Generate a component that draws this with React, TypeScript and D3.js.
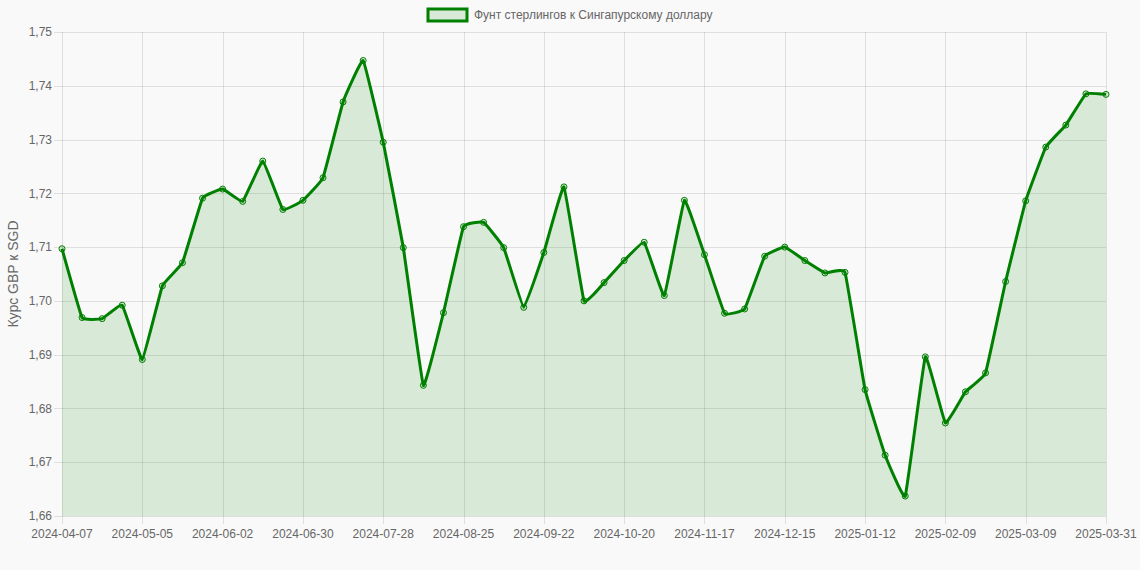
import React, { useEffect, useRef } from "react";
import * as d3 from "d3";

const dates = [
  "2024-04-07", "2024-04-14", "2024-04-21", "2024-04-28", "2024-05-05", "2024-05-12",
  "2024-05-19", "2024-05-26", "2024-06-02", "2024-06-09", "2024-06-16", "2024-06-23",
  "2024-06-30", "2024-07-07", "2024-07-14", "2024-07-21", "2024-07-28", "2024-08-04",
  "2024-08-11", "2024-08-18", "2024-08-25", "2024-09-01", "2024-09-08", "2024-09-15",
  "2024-09-22", "2024-09-29", "2024-10-06", "2024-10-13", "2024-10-20", "2024-10-27",
  "2024-11-03", "2024-11-10", "2024-11-17", "2024-11-24", "2024-12-01", "2024-12-08",
  "2024-12-15", "2024-12-22", "2024-12-29", "2025-01-05", "2025-01-12", "2025-01-19",
  "2025-01-26", "2025-02-02", "2025-02-09", "2025-02-16", "2025-02-23", "2025-03-02",
  "2025-03-09", "2025-03-16", "2025-03-23", "2025-03-30", "2025-03-31",
];

const rates = [
  1.7097, 1.6969, 1.6967, 1.6992, 1.6891, 1.7028, 1.7071, 1.7191, 1.7208, 1.7185,
  1.726, 1.717, 1.7187, 1.7229, 1.737, 1.7447, 1.7295, 1.7099, 1.6843, 1.6978,
  1.7138, 1.7146, 1.7099, 1.6988, 1.709, 1.7212, 1.7, 1.7034, 1.7075, 1.7109,
  1.701, 1.7187, 1.7086, 1.6977, 1.6985, 1.7083, 1.71, 1.7075, 1.7052, 1.7053,
  1.6835, 1.6713, 1.6637, 1.6896, 1.6773, 1.6831, 1.6866, 1.7036, 1.7186, 1.7286,
  1.7327, 1.7385, 1.7384,
];

const yTicks = [1.66, 1.67, 1.68, 1.69, 1.7, 1.71, 1.72, 1.73, 1.74, 1.75];

const seriesLabel = "Фунт стерлингов к Сингапурскому доллару";
const yTitle = "Курс GBP к SGD";

const W = 1140;
const H = 570;
const margin = { top: 32, right: 34, bottom: 54, left: 62 };
const font = "'Liberation Sans', Arial, Helvetica, sans-serif";
const green = "#008000";

function App() {
  const ref = useRef<SVGSVGElement>(null);

  useEffect(() => {
    document.body.style.margin = "0";
    document.body.style.background = "#f9f9f9";
    const svg = d3.select(ref.current);
    svg.selectAll("*").remove();

    const x = d3
      .scalePoint<number>()
      .domain(d3.range(dates.length))
      .range([margin.left, W - margin.right]);
    const y = d3
      .scaleLinear()
      .domain([1.66, 1.75])
      .range([H - margin.bottom, margin.top]);

    const grid = svg.append("g");
    // horizontal grid + ticks
    grid
      .selectAll("line.h")
      .data(yTicks)
      .enter()
      .append("line")
      .attr("x1", margin.left - 8)
      .attr("x2", W - margin.right)
      .attr("y1", (d) => Math.round(y(d)) + 0.5)
      .attr("y2", (d) => Math.round(y(d)) + 0.5)
      .attr("stroke", "rgba(0,0,0,0.1)");

    const shown = d3.range(0, dates.length, 4);
    grid
      .selectAll("line.v")
      .data(shown)
      .enter()
      .append("line")
      .attr("x1", (i) => Math.round(x(i)!) + 0.5)
      .attr("x2", (i) => Math.round(x(i)!) + 0.5)
      .attr("y1", margin.top)
      .attr("y2", H - margin.bottom + 8)
      .attr("stroke", "rgba(0,0,0,0.1)");

    // y labels
    svg
      .append("g")
      .selectAll("text")
      .data(yTicks)
      .enter()
      .append("text")
      .attr("x", margin.left - 10)
      .attr("y", (d) => y(d))
      .attr("dy", "0.35em")
      .attr("text-anchor", "end")
      .attr("font-family", font)
      .attr("font-size", 12)
      .attr("fill", "#666")
      .text((d) => d3.format(".2f")(d).replace(".", ","));

    // x labels
    svg
      .append("g")
      .selectAll("text")
      .data(shown)
      .enter()
      .append("text")
      .attr("x", (i) => x(i)!)
      .attr("y", H - margin.bottom + 22)
      .attr("text-anchor", "middle")
      .attr("font-family", font)
      .attr("font-size", 12)
      .attr("fill", "#666")
      .text((i) => dates[i]);

    // y title
    svg
      .append("text")
      .attr("transform", `translate(18,${(margin.top + H - margin.bottom) / 2}) rotate(-90)`)
      .attr("text-anchor", "middle")
      .attr("font-family", font)
      .attr("font-size", 14)
      .attr("fill", "#666")
      .text(yTitle);

    const curve = d3.curveCardinal.tension(0.75);

    const area = d3
      .area<number>()
      .x((d, i) => x(i)!)
      .y0(y(1.66))
      .y1((d) => y(d))
      .curve(curve);

    const line = d3
      .line<number>()
      .x((d, i) => x(i)!)
      .y((d) => y(d))
      .curve(curve);

    svg
      .append("path")
      .datum(rates)
      .attr("d", area)
      .attr("fill", "rgba(0,128,0,0.13)");

    svg
      .append("path")
      .datum(rates)
      .attr("d", line)
      .attr("fill", "none")
      .attr("stroke", green)
      .attr("stroke-width", 3)
      .attr("stroke-linejoin", "round");

    svg
      .append("g")
      .selectAll("circle")
      .data(rates)
      .enter()
      .append("circle")
      .attr("cx", (d, i) => x(i)!)
      .attr("cy", (d) => y(d))
      .attr("r", 3)
      .attr("fill", "rgba(0,128,0,0.13)")
      .attr("stroke", green)
      .attr("stroke-width", 1);

    // legend
    const lg = svg.append("g");
    lg.append("rect")
      .attr("x", 428)
      .attr("y", 9)
      .attr("width", 39)
      .attr("height", 12)
      .attr("fill", "rgba(0,128,0,0.13)")
      .attr("stroke", green)
      .attr("stroke-width", 3);
    lg.append("text")
      .attr("x", 474)
      .attr("y", 15)
      .attr("dy", "0.35em")
      .attr("font-family", font)
      .attr("font-size", 12)
      .attr("fill", "#666")
      .text(seriesLabel);
  }, []);

  return <svg ref={ref} width={W} height={H} style={{ display: "block" }} />;
}

export default App;
